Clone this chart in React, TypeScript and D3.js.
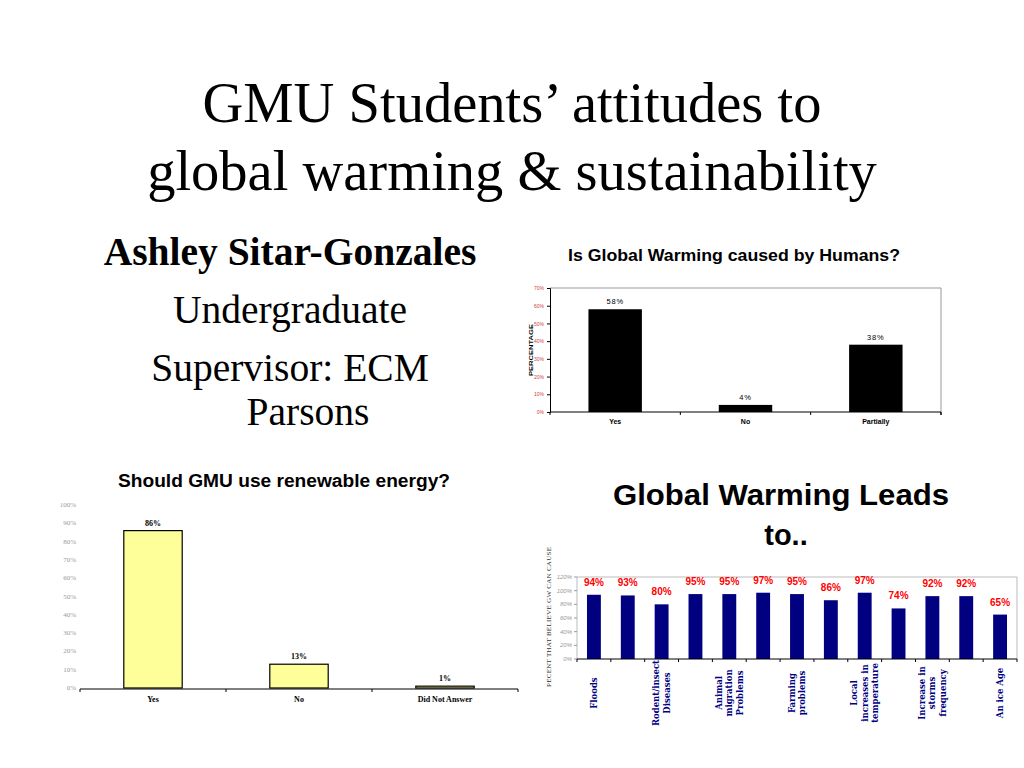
import React, { useRef, useEffect } from 'react';
import * as d3 from 'd3';

// Chart 1: Is Global Warming caused by Humans?
const humansCategories = ['Yes', 'No', 'Partially'];
const humansValues = [58, 4, 38];
const humansTicks = [0, 10, 20, 30, 40, 50, 60, 70];

// Chart 2: Should GMU use renewable energy?
const renewCategories = ['Yes', 'No', 'Did Not Answer'];
const renewValues = [86, 13, 1];
const renewTicks = [0, 10, 20, 30, 40, 50, 60, 70, 80, 90, 100];

// Chart 3: Global Warming Leads to..  (only every other label is printed on the slide)
const effectLabels = [
  'Floods', '', 'Rodent/insect\nDiseases', '', 'Animal\nmigration\nProblems', '',
  'Farming\nproblems', '', 'Local\nincreases in\ntemperature', '', 'Increase in\nstorms\nfrequency', '',
  'An ice Age',
];
const effectValues = [94, 93, 80, 95, 95, 97, 95, 86, 97, 74, 92, 92, 65];
const effectTicks = [0, 20, 40, 60, 80, 100, 120];

const SERIF = '"Liberation Serif", "Times New Roman", serif';
const SANS = '"Liberation Sans", Arial, sans-serif';

const App: React.FC = () => {
  const svgRef = useRef<SVGSVGElement>(null);

  useEffect(() => {
    if (!svgRef.current) return;
    const svg = d3.select(svgRef.current);
    svg.selectAll('*').remove();

    svg.append('rect').attr('width', 1024).attr('height', 768).attr('fill', '#fff');

    // Slide title
    const title = svg.append('text')
      .attr('text-anchor', 'middle')
      .style('font-family', SERIF)
      .style('font-size', '56.5px')
      .style('fill', '#000');
    title.append('tspan').attr('x', 512).attr('y', 122).text('GMU Students\u2019 attitudes to');
    title.append('tspan').attr('x', 512).attr('y', 190).text('global warming & sustainability');

    // Author block
    svg.append('text')
      .attr('x', 290).attr('y', 265)
      .attr('text-anchor', 'middle')
      .style('font-family', SERIF).style('font-size', '39.5px').style('font-weight', 'bold')
      .text('Ashley Sitar-Gonzales');
    [['Undergraduate', 290, 323], ['Supervisor: ECM', 290, 381], ['Parsons', 308, 425]].forEach(([t, x, y]) => {
      svg.append('text')
        .attr('x', x as number).attr('y', y as number)
        .attr('text-anchor', 'middle')
        .style('font-family', SERIF).style('font-size', '39.5px')
        .text(t as string);
    });

    // ---------- Chart 1 ----------
    {
      const left = 550, right = 941, top = 288, bottom = 412;
      const x = d3.scaleBand<string>().domain(humansCategories).range([left, right]);
      const y = d3.scaleLinear().domain([0, 70]).range([bottom, top]);
      const g = svg.append('g');

      g.append('text')
        .attr('x', 734).attr('y', 261)
        .attr('text-anchor', 'middle')
        .attr('textLength', 332).attr('lengthAdjust', 'spacingAndGlyphs')
        .style('font-family', SANS).style('font-size', '16px').style('font-weight', 'bold')
        .text('Is Global Warming caused by Humans?');

      // frame
      g.append('path')
        .attr('d', `M${left},${top}H${right}V${bottom}`)
        .attr('fill', 'none').attr('stroke', '#999').attr('stroke-width', 1);

      const yAxis = g.append('g')
        .attr('transform', `translate(${left},0)`)
        .call(d3.axisLeft(y).tickValues(humansTicks).tickSize(3).tickFormat(d => `${d}%`));
      yAxis.select('.domain').attr('stroke', '#000');
      yAxis.selectAll('text')
        .style('font-family', SANS).style('font-size', '5px').attr('fill', '#d04040');

      g.append('line')
        .attr('x1', left).attr('x2', right).attr('y1', bottom).attr('y2', bottom)
        .attr('stroke', '#000');
      [left, ...humansCategories.map(c => (x(c) as number) + x.bandwidth()), right].forEach(t => {
        g.append('line').attr('x1', t).attr('x2', t).attr('y1', bottom).attr('y2', bottom + 3).attr('stroke', '#000');
      });

      const bw = x.bandwidth() * 0.41;
      humansCategories.forEach((c, i) => {
        const cx = (x(c) as number) + x.bandwidth() / 2;
        g.append('rect')
          .attr('x', cx - bw / 2).attr('y', y(humansValues[i]))
          .attr('width', bw).attr('height', bottom - y(humansValues[i]))
          .attr('fill', '#000');
        g.append('text')
          .attr('x', cx).attr('y', y(humansValues[i]) - 5)
          .attr('text-anchor', 'middle')
          .style('font-family', SANS).style('font-size', '7.5px').style('letter-spacing', '0.8px')
          .text(`${humansValues[i]}%`);
        g.append('text')
          .attr('x', cx).attr('y', bottom + 12)
          .attr('text-anchor', 'middle')
          .style('font-family', SANS).style('font-size', '7px').style('font-weight', 'bold')
          .text(c);
      });

      g.append('text')
        .attr('transform', `translate(533,${(top + bottom) / 2}) rotate(-90)`)
        .attr('text-anchor', 'middle')
        .attr('textLength', 52).attr('lengthAdjust', 'spacingAndGlyphs')
        .style('font-family', SANS).style('font-size', '6px').style('font-weight', 'bold')
        .text('PERCENTAGE');
    }

    // ---------- Chart 2 ----------
    {
      const left = 80, right = 518, top = 505, bottom = 688;
      const x = d3.scaleBand<string>().domain(renewCategories).range([left, right]);
      const y = d3.scaleLinear().domain([0, 100]).range([bottom, top]);
      const g = svg.append('g');

      g.append('text')
        .attr('x', 284).attr('y', 487)
        .attr('text-anchor', 'middle')
        .attr('textLength', 332).attr('lengthAdjust', 'spacingAndGlyphs')
        .style('font-family', SANS).style('font-size', '18px').style('font-weight', 'bold')
        .text('Should GMU use renewable energy?');

      renewTicks.forEach(t => {
        g.append('text')
          .attr('x', 76).attr('y', y(t) + 2)
          .attr('text-anchor', 'end')
          .style('font-family', SERIF).style('font-size', '7px').attr('fill', '#999')
          .text(`${t}%`);
      });

      const bw = x.bandwidth() * 0.4;
      renewCategories.forEach((c, i) => {
        const cx = (x(c) as number) + x.bandwidth() / 2;
        g.append('rect')
          .attr('x', cx - bw / 2).attr('y', y(renewValues[i]))
          .attr('width', bw).attr('height', bottom - y(renewValues[i]))
          .attr('fill', '#ffff99').attr('stroke', '#000').attr('stroke-width', 1.2);
        g.append('text')
          .attr('x', cx).attr('y', y(renewValues[i]) - 5)
          .attr('text-anchor', 'middle')
          .style('font-family', SERIF).style('font-size', '8px').style('font-weight', 'bold')
          .text(`${renewValues[i]}%`);
        g.append('text')
          .attr('x', cx).attr('y', bottom + 14)
          .attr('text-anchor', 'middle')
          .style('font-family', SERIF).style('font-size', '8px').style('font-weight', 'bold')
          .text(c);
      });

      g.append('line')
        .attr('x1', left).attr('x2', right).attr('y1', bottom + 1).attr('y2', bottom + 1)
        .attr('stroke', '#000').attr('stroke-width', 1.2);
      [left, ...renewCategories.map(c => (x(c) as number) + x.bandwidth())].forEach(t => {
        g.append('line').attr('x1', t).attr('x2', t).attr('y1', bottom + 1).attr('y2', bottom + 4).attr('stroke', '#000');
      });
    }

    // ---------- Chart 3 ----------
    {
      const left = 577, right = 1017, top = 577, bottom = 659;
      const idx = effectValues.map((_, i) => String(i));
      const x = d3.scaleBand<string>().domain(idx).range([left, right]);
      const y = d3.scaleLinear().domain([0, 120]).range([bottom, top]);
      const g = svg.append('g');

      g.append('text')
        .attr('x', 781).attr('y', 505)
        .attr('text-anchor', 'middle')
        .attr('textLength', 336).attr('lengthAdjust', 'spacingAndGlyphs')
        .style('font-family', SANS).style('font-size', '29px').style('font-weight', 'bold')
        .text('Global Warming Leads');
      g.append('text')
        .attr('x', 786).attr('y', 545)
        .attr('text-anchor', 'middle')
        .style('font-family', SANS).style('font-size', '29px').style('font-weight', 'bold')
        .text('to..');

      g.append('path')
        .attr('d', `M${left},${bottom}V${top}H${right}V${bottom}`)
        .attr('fill', 'none').attr('stroke', '#bbb').attr('stroke-width', 1);

      effectTicks.forEach(t => {
        g.append('line').attr('x1', left - 3).attr('x2', left).attr('y1', y(t)).attr('y2', y(t)).attr('stroke', '#999');
        g.append('text')
          .attr('x', left - 5).attr('y', y(t) + 2)
          .attr('text-anchor', 'end')
          .style('font-family', SANS).style('font-size', '6px').style('font-style', 'italic').attr('fill', '#999')
          .text(`${t}%`);
      });

      const bw = x.bandwidth() * 0.41;
      effectValues.forEach((v, i) => {
        const cx = (x(String(i)) as number) + x.bandwidth() / 2;
        g.append('rect')
          .attr('x', cx - bw / 2).attr('y', y(v))
          .attr('width', bw).attr('height', bottom - y(v))
          .attr('fill', '#000080');
        g.append('text')
          .attr('x', cx).attr('y', y(v) - 9)
          .attr('text-anchor', 'middle')
          .style('font-family', SANS).style('font-size', '10px').style('font-weight', 'bold').attr('fill', '#ff0000')
          .text(`${v}%`);

        const lines = effectLabels[i] ? effectLabels[i].split('\n') : [];
        const lg = g.append('g').attr('transform', `translate(${cx},693) rotate(-90)`);
        lines.forEach((ln, j) => {
          lg.append('text')
            .attr('x', 0).attr('y', (j - (lines.length - 1) / 2) * 10.5)
            .attr('text-anchor', 'middle').attr('dominant-baseline', 'central')
            .style('font-family', '"DejaVu Serif", serif').style('font-size', '8.5px').style('font-weight', 'bold')
            .attr('fill', '#000080')
            .text(ln);
        });
      });

      g.append('line')
        .attr('x1', left).attr('x2', right).attr('y1', bottom).attr('y2', bottom)
        .attr('stroke', '#000');
      [left, ...idx.map(c => (x(c) as number) + x.bandwidth())].forEach(t => {
        g.append('line').attr('x1', t).attr('x2', t).attr('y1', bottom).attr('y2', bottom + 3).attr('stroke', '#000');
      });

      g.append('text')
        .attr('transform', `translate(551,617) rotate(-90)`)
        .attr('text-anchor', 'middle')
        .attr('textLength', 140).attr('lengthAdjust', 'spacing')
        .style('font-family', SERIF).style('font-size', '7px').attr('fill', '#333')
        .text('PECENT THAT BELIEVE GW CAN CAUSE');
    }
  }, []);

  return (
    <svg
      ref={svgRef}
      width={1024}
      height={768}
      style={{ position: 'absolute', left: 0, top: 0, display: 'block' }}
    />
  );
};

export default App;
